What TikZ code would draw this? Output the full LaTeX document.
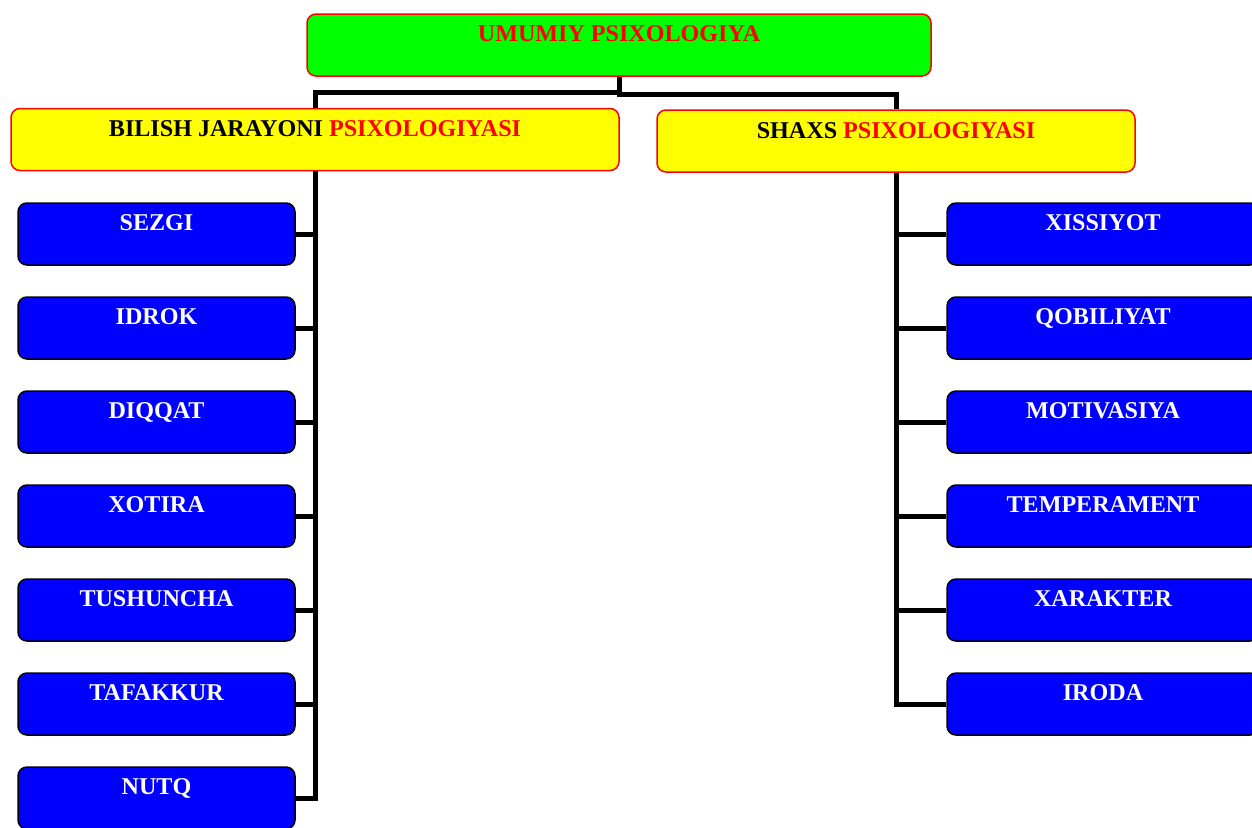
\documentclass[tikz,border=0pt]{standalone}
\usepackage{fontspec}
\setmainfont{Liberation Serif}
\definecolor{pgreen}{RGB}{0,255,0}
\definecolor{pyellow}{RGB}{255,255,0}
\definecolor{pblue}{RGB}{0,0,255}
\definecolor{pred}{RGB}{255,0,0}
\begin{document}
\begin{tikzpicture}[x=1pt,y=-1pt,
  box/.style={rounded corners=9pt, line width=1.5pt, inner sep=0pt,
    minimum height=62pt, font=\fontsize{24.1}{28}\selectfont\bfseries,
    text height=16pt, text depth=24pt},
  rootbox/.style={box, draw=pred, fill=pgreen, text=pred, minimum width=624pt},
  branchbox/.style={box, draw=pred, fill=pyellow, text=black,
    text height=17pt, text depth=23pt},
  leafbox/.style={box, draw=black, fill=pblue, text=white},
  lleaf/.style={leafbox, minimum width=277pt},
  rleaf/.style={leafbox, minimum width=312pt},
  conn/.style={line width=5pt}]
\useasboundingbox (0,0) rectangle (1252,827);

% root and the two branches
\node[rootbox] (root) at (619,45) {UMUMIY PSIXOLOGIYA};
\node[branchbox, minimum width=608pt] (bilish) at (315,139.5)
  {BILISH JARAYONI \textcolor{pred}{PSIXOLOGIYASI}};
\node[branchbox, minimum width=478pt] (shaxs) at (896,141)
  {SHAXS \textcolor{pred}{PSIXOLOGIYASI}};

% cognitive processes
\foreach \name/\txt [count=\i from 0] in
  {sezgi/SEZGI, idrok/IDROK, diqqat/DIQQAT, xotira/XOTIRA,
   tushuncha/TUSHUNCHA, tafakkur/TAFAKKUR, nutq/NUTQ}
  \node[lleaf] (\name) at (156.5,234+94*\i) {\txt};

% personality
\foreach \name/\txt [count=\i from 0] in
  {xissiyot/XISSIYOT, qobiliyat/QOBILIYAT, motivasiya/MOTIVASIYA,
   temperament/TEMPERAMENT, xarakter/XARAKTER, iroda/IRODA}
  \node[rleaf] (\name) at (1103,234+94*\i) {\txt};

% connectors
\draw[conn] (root.south) -- ++(0,16) -| (bilish.north);
\draw[conn] (root.south) -- ++(0,18) -| (shaxs.north);
\foreach \name in {sezgi,idrok,diqqat,xotira,tushuncha,tafakkur,nutq}
  \draw[conn] (bilish.south) |- (\name.east);
\foreach \name in {xissiyot,qobiliyat,motivasiya,temperament,xarakter,iroda}
  \draw[conn] (shaxs.south) |- (\name.west);
\end{tikzpicture}
\end{document}
